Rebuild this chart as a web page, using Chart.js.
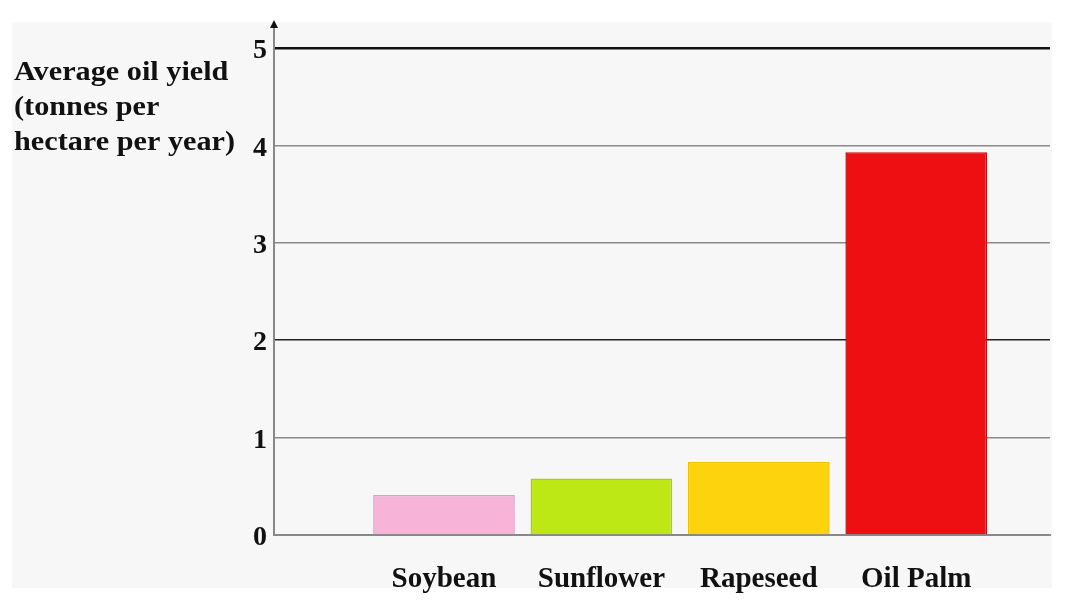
<!DOCTYPE html>
<html><head><meta charset="utf-8">
<script src="https://cdn.jsdelivr.net/npm/chart.js@4/dist/chart.umd.min.js"></script>
<style>html,body{margin:0;padding:0;background:#fff}#wrap{width:1080px;height:610px}</style>
</head><body><div id="wrap"><canvas id="c" width="1080" height="610"></canvas></div>
<script>
const categories = ['Soybean', 'Sunflower', 'Rapeseed', 'Oil Palm'];
const yields = [0.41, 0.58, 0.75, 3.93];
const barColors = ['#f8b3d8', '#bde815', '#fcd30c', '#ee0f13'];
const barBorders = ['#e59cc2', '#a8cf10', '#f0c000', '#c80a0e'];
const yTicks = [0, 1, 2, 3, 4, 5];
const yAxisTitle = ['Average oil yield', '(tonnes per', 'hectare per year)'];

const FONT = '"Liberation Serif", "Times New Roman", serif';

const bgPlugin = {
  id: 'bg',
  beforeDraw(chart) {
    const ctx = chart.ctx;
    ctx.save();
    ctx.fillStyle = '#ffffff';
    ctx.fillRect(0, 0, chart.width, chart.height);
    ctx.fillStyle = '#f7f7f7';
    ctx.fillRect(12, 22, 1040, 566);
    ctx.restore();
  }
};

const decoPlugin = {
  id: 'deco',
  afterDraw(chart) {
    const ctx = chart.ctx;
    const a = chart.chartArea;
    ctx.save();
    ctx.strokeStyle = '#888';
    ctx.lineWidth = 2;
    ctx.beginPath();
    ctx.moveTo(a.left, a.top);
    ctx.lineTo(a.left, a.top - 22);
    ctx.stroke();
    ctx.fillStyle = '#111';
    ctx.beginPath();
    ctx.moveTo(a.left, a.top - 28);
    ctx.lineTo(a.left - 4, a.top - 20);
    ctx.lineTo(a.left + 4, a.top - 20);
    ctx.closePath();
    ctx.fill();
    ctx.fillStyle = '#111';
    ctx.font = 'bold 28px ' + FONT;
    ctx.textAlign = 'left';
    ctx.textBaseline = 'alphabetic';
    ctx.translate(14, 0);
    ctx.scale(1.08, 1);
    yAxisTitle.forEach((t, i) => ctx.fillText(t, 0, 80 + i * 35));
    ctx.restore();
  }
};

new Chart(document.getElementById('c'), {
  type: 'bar',
  data: {
    datasets: [{
      data: categories.map((c, i) => ({ x: i + 1, y: yields[i] })),
      backgroundColor: barColors,
      borderColor: barBorders,
      borderWidth: 1.5,
      barPercentage: 0.9,
      categoryPercentage: 1
    }]
  },
  options: {
    responsive: false,
    animation: false,
    devicePixelRatio: 1,
    layout: { padding: { top: 48, right: 30, left: 0, bottom: 0 } },
    plugins: { legend: { display: false }, tooltip: { enabled: false }, title: { display: false } },
    scales: {
      x: {
        type: 'linear',
        offset: false,
        min: -0.08,
        max: 4.85,
        afterBuildTicks: s => { s.ticks = categories.map((c, i) => ({ value: i + 1 })); },
        afterFit: s => { s.height = 75; },
        grid: { display: false, drawTicks: false },
        border: { display: true, color: '#888', width: 2 },
        ticks: {
          callback: v => categories[v - 1],
          font: { family: FONT, size: 29, weight: 'bold' },
          color: '#111',
          padding: 27,
          maxRotation: 0,
          autoSkip: false
        }
      },
      y: {
        min: 0,
        max: 5,
        afterBuildTicks: s => { s.ticks = yTicks.map(v => ({ value: v })); },
        afterFit: s => { s.width = 274; },
        grid: {
          drawTicks: false,
          color: c => (c.tick && c.tick.value === 5) ? '#111' : (c.tick && c.tick.value === 2 ? '#222' : '#8a8a8a'),
          lineWidth: c => (c.tick && c.tick.value === 5) ? 2.5 : 1.5
        },
        border: { display: true, color: '#888', width: 2 },
        ticks: {
          font: { family: FONT, size: 28, weight: 'bold' },
          color: '#111',
          padding: 7,
          labelOffset: 3
        }
      }
    }
  },
  plugins: [bgPlugin, decoPlugin]
});
</script>
</body></html>
